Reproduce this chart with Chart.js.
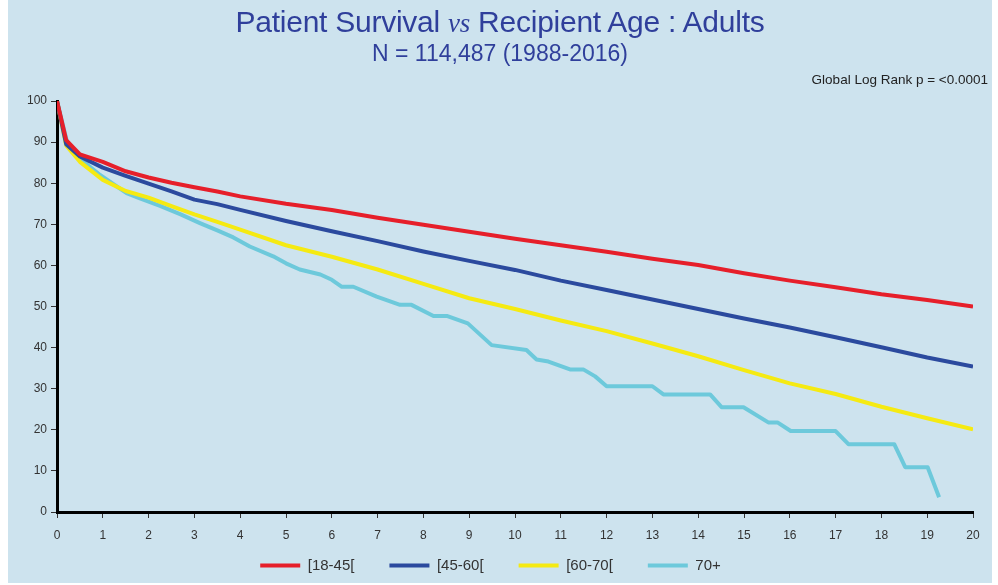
<!DOCTYPE html>
<html>
<head>
<meta charset="utf-8">
<script src="https://cdn.jsdelivr.net/npm/chart.js@4/dist/chart.umd.min.js"></script>
<style>
    html, body { margin: 0; padding: 0; background: #fff; }
    #panel {
        position: absolute; left: 8px; top: 0; width: 984px; height: 583px;
        background: #cde3ee; font-family: "Liberation Sans", Arial, sans-serif;
    }
    #title {
        position: absolute; left: 0; width: 100%; top: 5px; text-align: center;
        color: #2f3f9b; font-size: 30px; letter-spacing: -0.25px; white-space: nowrap;
    }
    #title em { font-family: "Liberation Serif", serif; font-style: italic; font-size: 27px; }
    #subtitle {
        position: absolute; left: 0; width: 100%; top: 40px; text-align: center;
        color: #2f3f9b; font-size: 23px;
    }
    #note {
        position: absolute; right: 4px; top: 72px; color: #222; font-size: 13.5px;
    }
    #chart { position: absolute; left: 0; top: 0; }
</style>
</head>
<body>
<div id="panel">
    <canvas id="chart" width="984" height="583"></canvas>
    <div id="title">Patient Survival <em>vs</em> Recipient Age : Adults</div>
    <div id="subtitle">N = 114,487 (1988-2016)</div>
    <div id="note">Global Log Rank p = &lt;0.0001</div>
</div>
<script>
// years after transplant, shared by the three larger groups
const years = [0, 0.2, 0.5, 1, 1.5, 2, 2.5, 3, 3.5, 4, 5, 6, 7, 8, 9, 10, 11, 12, 13, 14, 15, 16, 17, 18, 19, 20];
const age18to45 = [100, 90.5, 87, 85.2, 82.9, 81.4, 80.1, 79, 78, 76.8, 75, 73.5, 71.6, 69.9, 68.2, 66.5, 64.9, 63.3, 61.6, 60.1, 58.1, 56.3, 54.7, 53, 51.6, 50];
const age45to60 = [100, 89.5, 86.5, 83.8, 81.8, 79.9, 78, 76, 74.9, 73.5, 70.8, 68.3, 65.9, 63.4, 61.1, 58.9, 56.3, 54, 51.7, 49.4, 47.1, 44.9, 42.5, 40.1, 37.6, 35.4];
const age60to70 = [100, 89.2, 85.2, 80.8, 78.1, 76.5, 74.4, 72.4, 70.6, 68.7, 64.9, 62.1, 59, 55.5, 52, 49.4, 46.6, 44, 41, 37.9, 34.5, 31.3, 28.7, 25.6, 22.8, 20.1];

// the 70+ group has its own (step-like) time points
const years70 = [0, 0.22, 0.5, 0.94, 1.52, 1.81, 2.25, 2.7, 3.12, 3.5, 3.85, 4.21, 4.72, 5.0, 5.3, 5.75, 6.0, 6.22, 6.47, 6.98, 7.49, 7.74, 8.22, 8.51, 8.97, 9.49, 10.25, 10.47, 10.73, 11.2, 11.49, 11.75, 12.0, 13.0, 13.24, 14.26, 14.51, 14.99, 15.53, 15.73, 16.02, 17.0, 17.28, 18.28, 18.52, 19.01, 19.26];
const age70plus = [100, 90, 86, 82, 77.6, 76.3, 74.5, 72.4, 70.3, 68.5, 66.8, 64.6, 62.2, 60.5, 59, 57.8, 56.5, 54.8, 54.8, 52.4, 50.4, 50.4, 47.7, 47.7, 45.9, 40.6, 39.4, 37.1, 36.6, 34.7, 34.7, 33, 30.6, 30.6, 28.6, 28.6, 25.5, 25.5, 21.8, 21.8, 19.7, 19.7, 16.5, 16.5, 10.9, 10.9, 3.6];

const groupLabels = ['[18-45[', '[45-60[', '[60-70[', '70+'];
const groupColors = ['#e61f2a', '#2b4a9e', '#f5ea12', '#6dc9db'];

function toPoints(xs, ys) {
    return xs.map((x, i) => ({ x: x, y: ys[i] }));
}

const series = [
    toPoints(years, age18to45),
    toPoints(years, age45to60),
    toPoints(years, age60to70),
    toPoints(years70, age70plus)
];

const datasets = series.map((pts, i) => ({
    label: groupLabels[i],
    data: pts,
    showLine: true,
    borderColor: groupColors[i],
    backgroundColor: groupColors[i],
    borderWidth: 4,
    borderJoinStyle: 'round',
    pointRadius: 0,
    tension: 0
}));

const tickFont = { family: '"Liberation Sans", Arial, sans-serif', size: 12 };

new Chart(document.getElementById('chart'), {
    type: 'scatter',
    data: { datasets: datasets },
    options: {
        responsive: false,
        animation: false,
        layout: { padding: { left: 0, right: 19, top: 101, bottom: 0 } },
        plugins: {
            tooltip: { enabled: false },
            legend: {
                position: 'bottom',
                labels: {
                    boxWidth: 40,
                    boxHeight: 4,
                    padding: 10,
                    color: '#333',
                    font: { family: '"Liberation Sans", Arial, sans-serif', size: 15 },
                    // trailing spaces widen the gap between items without a tall legend box
                    generateLabels: chart => Chart.defaults.plugins.legend.labels.generateLabels(chart)
                        .map((l, i, all) => ({
                            ...l,
                            lineWidth: 0,
                            text: i < all.length - 1 ? l.text + '      ' : l.text
                        }))
                }
            }
        },
        scales: {
            x: {
                type: 'linear',
                min: 0, max: 20,
                ticks: { stepSize: 1, color: '#333', font: tickFont, padding: 10 },
                grid: { drawOnChartArea: false, drawTicks: true, tickLength: 6, color: '#333' },
                border: { display: true, width: 3, color: '#000' },
                afterFit: scale => { scale.height = 36; }
            },
            y: {
                min: 0, max: 100,
                ticks: { stepSize: 10, color: '#333', font: tickFont, padding: 4 },
                grid: { drawOnChartArea: false, drawTicks: true, tickLength: 6, color: '#333' },
                border: { display: true, width: 3, color: '#000' },
                afterFit: scale => { scale.width = 49; }
            }
        }
    }
});
</script>
</body>
</html>
